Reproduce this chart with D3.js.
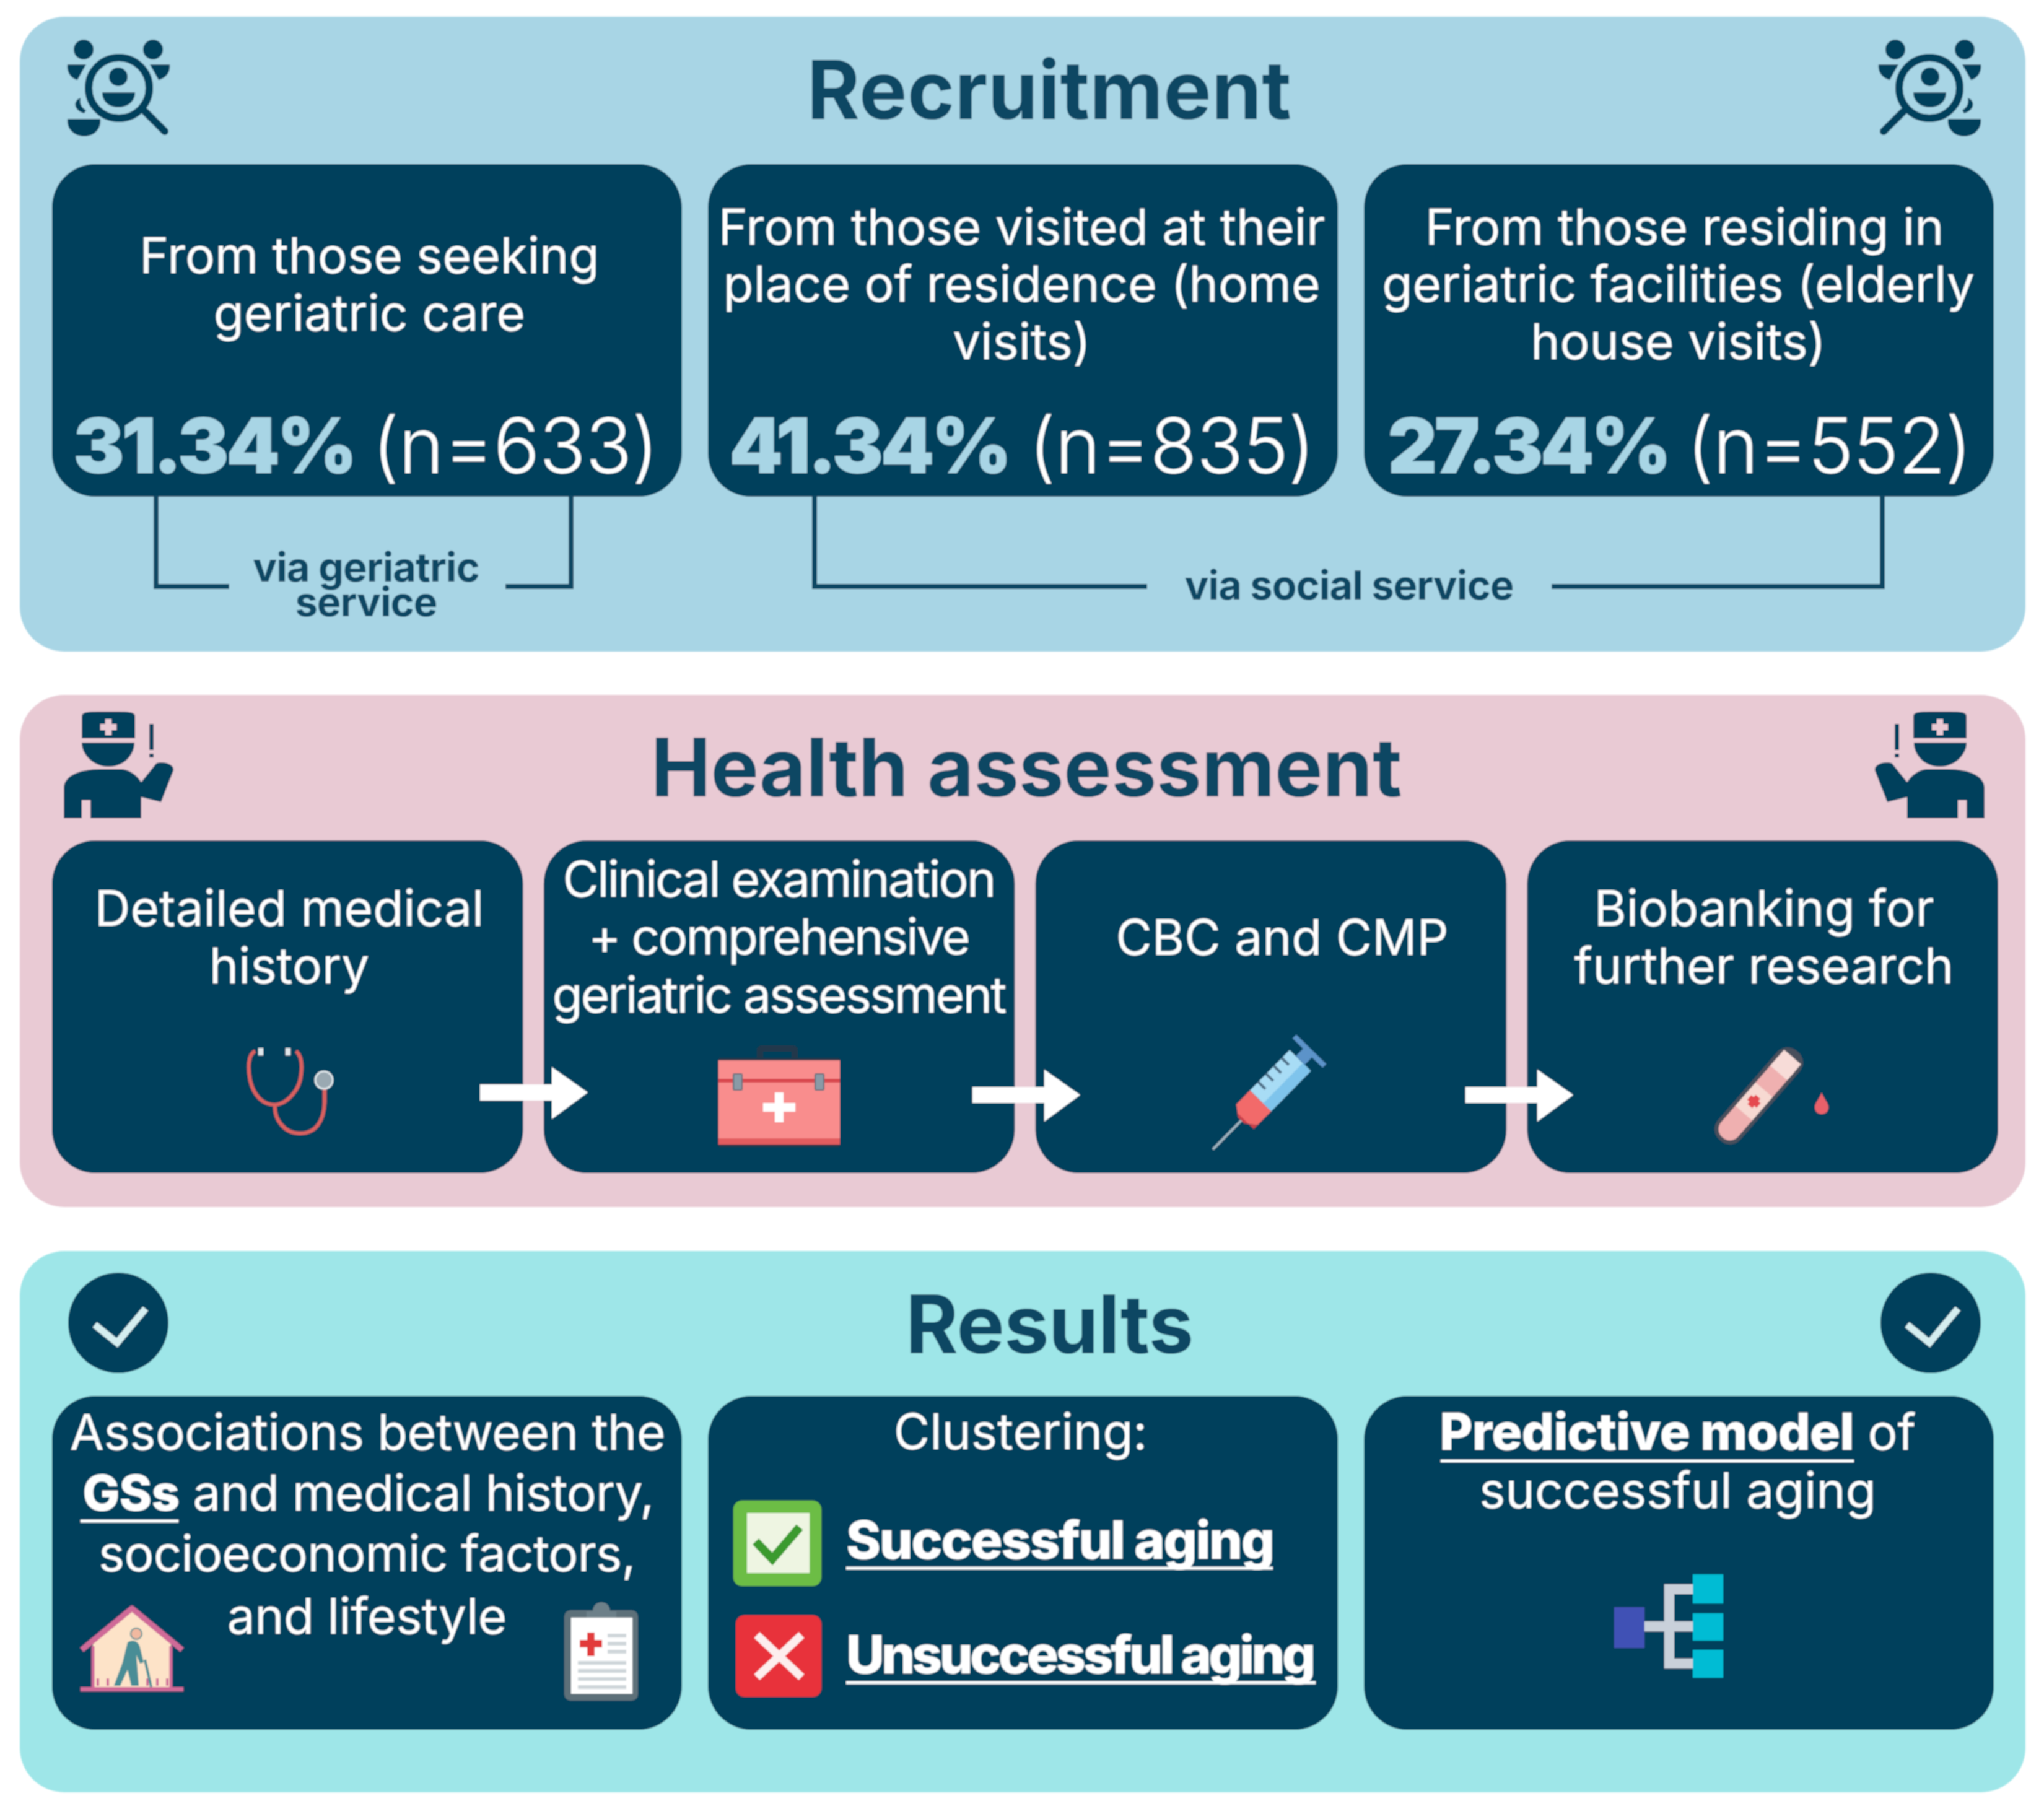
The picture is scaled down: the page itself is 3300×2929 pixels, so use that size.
<!DOCTYPE html>
<html>
<head>
<meta charset="utf-8">
<script src="https://cdn.jsdelivr.net/npm/d3@7"></script>
<style>
  html, body { margin: 0; padding: 0; background: #fff; }
  svg { display: block; }
  text { font-family: Inter, "Noto Sans", sans-serif; }
</style>
</head>
<body>
<div id="chart"></div>
<script>
// values
const sectionTitles = ["Recruitment", "Health assessment", "Results"];
const recruitLabels = [
  ["From those seeking", "geriatric care"],
  ["From those visited at their", "place of residence (home", "visits)"],
  ["From those residing in", "geriatric facilities (elderly", "house visits)"]
];
const recruitPct = [31.34, 41.34, 27.34];
const recruitN = [633, 835, 552];
const bracketLabels = [["via geriatric", "service"], ["via social service"]];
const stepLabels = [
  ["Detailed medical", "history"],
  ["Clinical examination", "+ comprehensive", "geriatric assessment"],
  ["CBC and CMP"],
  ["Biobanking for", "further research"]
];
const assocLines = ["Associations between the", "and medical history,", "socioeconomic factors,", "and lifestyle"];
const assocBold = "GSs";
const clusterTitle = "Clustering:";
const clusterLabels = ["Successful aging", "Unsuccessful aging"];
const modelBold = "Predictive model";
const modelRest = " of";
const modelLine2 = "successful aging";

const W = 3300, H = 2929;
const DARK = "#03405c", TITLE = "#0b4664", STAT = "#a8d5e5";
const BODY = 80;

const svg = d3.select("#chart").append("svg")
  .attr("width", W).attr("height", H).attr("viewBox", `0 0 ${W} ${H}`);
svg.append("rect").attr("width", W).attr("height", H).attr("fill", "#fff");

const defs = svg.append("defs");
defs.append("filter").attr("id", "soft")
  .attr("filterUnits", "userSpaceOnUse")
  .attr("x", 0).attr("y", 0).attr("width", W).attr("height", H)
  .append("feGaussianBlur").attr("stdDeviation", 1.3);

const root = svg.append("g").attr("filter", "url(#soft)");

// columns of the three- and four-box rows
const col3 = d3.scaleBand().domain(d3.range(3)).range([84, 3219]).paddingInner(0.04);
const col4 = d3.scaleBand().domain(d3.range(4)).range([84, 3226]).paddingInner(0.042);

// panels
const panels = [
  { y: 27, h: 1025, fill: "#a8d5e5" },
  { y: 1122, h: 827, fill: "#e9cad4" },
  { y: 2020, h: 874, fill: "#9ee6e8" }
];
root.selectAll("rect.panel").data(panels).join("rect")
  .attr("class", "panel")
  .attr("x", 32).attr("y", d => d.y)
  .attr("width", 3238).attr("height", d => d.h)
  .attr("rx", 72).attr("fill", d => d.fill);

function box(x, y, w, h) {
  root.append("rect").attr("x", x).attr("y", y).attr("width", w).attr("height", h)
    .attr("rx", 70).attr("fill", DARK);
}

function label(g, str, x, y, size, opt) {
  opt = opt || {};
  return g.append("text")
    .attr("x", x).attr("y", y)
    .attr("text-anchor", opt.anchor || "middle")
    .attr("font-size", size)
    .attr("font-weight", opt.weight || 400)
    .attr("letter-spacing", opt.spacing || 0)
    .attr("fill", opt.fill || "#fff")
    .text(str);
}

// titles
const titleX = [1694, 1657, 1694], titleY = [192, 1286, 2185], titleTrack = [0.3, -0.25, -1];
sectionTitles.forEach((t, i) => {
  label(root, t, titleX[i], titleY[i], 130, { weight: 700, fill: TITLE, spacing: titleTrack[i] });
});

// recruitment row
const recruitBase = [[441, 534], [395, 487, 580], [395, 487, 580]];
const recruitDx = [4, -2, -1];
const pctDx = [34, 34, 38];
const nDx = [517, 518, 521];
recruitLabels.forEach((lines, i) => {
  const x = col3(i), w = col3.bandwidth();
  box(x, 265, w, 537);
  const cx = x + w / 2 + recruitDx[i];
  lines.forEach((s, k) => label(root, s, cx + (i === 2 && k === 0 ? 10 : 0), recruitBase[i][k], BODY));
  label(root, d3.format(".2f")(recruitPct[i]) + "%", x + pctDx[i], 764, 124, { anchor: "start", weight: 900, fill: STAT, spacing: -4.7 });
  label(root, `(n=${recruitN[i]})`, x + nDx[i], 764, 124, { anchor: "start", weight: 300, spacing: -0.5 });
});

// brackets under the recruitment boxes
function bracket(x0, x1, x2, x3, top, bottom) {
  const p = d3.path();
  p.moveTo(x1, bottom); p.lineTo(x0, bottom); p.lineTo(x0, top);
  p.moveTo(x2, bottom); p.lineTo(x3, bottom); p.lineTo(x3, top);
  root.append("path").attr("d", p.toString()).attr("fill", "none")
    .attr("stroke", TITLE).attr("stroke-width", 8);
}
bracket(252, 370, 816, 922, 800, 947);
bracket(1315, 1852, 2505, 3039, 800, 947);
const viaG = label(root, null, 591, 939, 65, { weight: 700, fill: TITLE, spacing: -1 });
bracketLabels[0].forEach((s, k) => viaG.append("tspan").attr("x", 591).attr("y", 939 + k * 56).text(s));
label(root, bracketLabels[1][0], 2178, 968, 65, { weight: 700, fill: TITLE, spacing: -1 });

// health assessment row
const stepBase = [[1495, 1588], [1448, 1541, 1635], [1542], [1495, 1588]];
const stepCx = [467, 1257, 2070, 2848];
stepLabels.forEach((lines, i) => {
  const x = col4(i), w = col4.bandwidth();
  box(x, 1357, w, 537);
  lines.forEach((s, k) => label(root, s, stepCx[i], stepBase[i][k], BODY, { spacing: i === 1 ? -2.8 : 0 }));
});
const arrowStart = [775, 1570, 2366], arrowY = [1764, 1768, 1768];
arrowStart.forEach((x, i) => {
  const y = arrowY[i];
  root.append("path").attr("fill", "#fff")
    .attr("d", `M${x},${y - 13}H${x + 116}V${y - 41}L${x + 174},${y}L${x + 116},${y + 43}V${y + 13}H${x}Z`);
});

// results row
d3.range(3).forEach(i => box(col3(i), 2254, col3.bandwidth(), 539));
const cx0 = col3(0) + col3.bandwidth() / 2;
const cx1 = col3(1) + col3.bandwidth() / 2 - 4;
const cx2 = col3(2) + col3.bandwidth() / 2 - 2;

label(root, assocLines[0], cx0 + 1, 2341, BODY, { spacing: -0.5 });
const gs = label(root, null, cx0 + 2, 2439, BODY, { spacing: -0.8 });
gs.append("tspan").attr("font-weight", 800).text(assocBold);
gs.append("tspan").text(" " + assocLines[1]);
root.append("line").attr("x1", 130).attr("x2", 288).attr("y1", 2456).attr("y2", 2456)
  .attr("stroke", "#fff").attr("stroke-width", 5);
label(root, assocLines[2], cx0, 2537, BODY, { spacing: -0.8 });
label(root, assocLines[3], cx0, 2638, BODY, { spacing: -0.5 });

label(root, clusterTitle, cx1, 2340, BODY);
const clusterX = 1366, clusterBase = [2517, 2702], clusterTrack = [-2.4, -4.6], clusterEnd = [2055, 2124];
clusterLabels.forEach((s, i) => {
  label(root, s, clusterX, clusterBase[i], 85, { anchor: "start", weight: 800, spacing: clusterTrack[i] });
  root.append("line").attr("x1", clusterX).attr("x2", clusterEnd[i])
    .attr("y1", clusterBase[i] + 15).attr("y2", clusterBase[i] + 15)
    .attr("stroke", "#fff").attr("stroke-width", 5);
});

const pm = label(root, null, cx2, 2341, BODY);
pm.append("tspan").attr("font-weight", 800).attr("font-size", 82).attr("letter-spacing", -0.8).text(modelBold);
pm.append("tspan").text(modelRest);
root.append("line").attr("x1", 2326).attr("x2", 2993).attr("y1", 2359).attr("y2", 2359)
  .attr("stroke", "#fff").attr("stroke-width", 5);
label(root, modelLine2, cx2, 2435, BODY);

// ---- icons, drawn around their own origin ----
const MIRROR = 3307;

function searchIcon(g) {
  g.append("circle").attr("r", 49).attr("fill", "none").attr("stroke", DARK).attr("stroke-width", 12);
  g.append("circle").attr("cx", 1).attr("cy", -18).attr("r", 15).attr("fill", DARK);
  g.append("path").attr("fill", DARK).attr("d", "M-26,7H27C27,24 14,31 1,31C-12,31 -26,24 -26,7Z");
  g.append("line").attr("x1", -42).attr("y1", 38).attr("x2", -74).attr("y2", 70)
    .attr("stroke", DARK).attr("stroke-width", 12).attr("stroke-linecap", "round");
  [-55, 57].forEach(x => g.append("circle").attr("cx", x).attr("cy", -62).attr("r", 16).attr("fill", DARK));
  g.append("path").attr("fill", DARK).attr("d", "M-82,-38H-50L-64,-13C-74,-15 -84,-24 -82,-38Z");
  g.append("path").attr("fill", DARK).attr("d", "M53,-38H83C85,-24 76,-15 67,-13Z");
  g.append("path").attr("fill", DARK).attr("d", "M62,16C74,20 74,36 56,41L53,36C60,32 64,26 62,16Z");
  g.append("path").attr("fill", DARK).attr("d", "M30,50H83C85,68 70,78 56,78C42,78 28,68 30,50Z");
}
searchIcon(root.append("g").attr("transform", "translate(3115,142)"));
searchIcon(root.append("g").attr("transform", `translate(${MIRROR - 3115},142) scale(-1,1)`));

function doctorIcon(g) {
  // cap, band gap, face
  g.append("path").attr("fill", DARK).attr("d", "M-43,2V-32C-43,-41 -36,-41 0,-41C36,-41 43,-41 43,-32V2Z");
  g.append("path").attr("fill", DARK).attr("d", "M-43,9H42C42,30 24,48 0,48C-22,48 -43,30 -43,9Z");
  g.append("path").attr("fill", "#e9cad4").attr("d", "M-5,-29H5V-21H13V-11H5V-3H-5V-11H-13V-21H-5Z");
  // body and raised arm
  g.append("path").attr("fill", DARK).attr("d",
    "M-72,131V83C-72,64 -50,52 -12,52H20C34,52 46,62 53,73L77,43C85,38 107,43 105,54L85,105L53,97V131H-29V102H-43V131Z");
  // exclamation mark
  g.append("rect").attr("x", 66).attr("y", -21).attr("width", 7).attr("height", 42).attr("fill", DARK);
  g.append("rect").attr("x", 66).attr("y", 27).attr("width", 7).attr("height", 6).attr("fill", DARK);
}
doctorIcon(root.append("g").attr("transform", "translate(175,1190)"));
doctorIcon(root.append("g").attr("transform", `translate(${MIRROR - 175},1190) scale(-1,1)`));

function checkIcon(g, pts) {
  g.append("circle").attr("r", 81).attr("fill", DARK);
  g.append("path").attr("d", d3.line()(pts)).attr("fill", "none")
    .attr("stroke", "#d5eef0").attr("stroke-width", 11);
}
checkIcon(root.append("g").attr("transform", "translate(191,2136)"), [[-38, 3], [-2, 32], [44, -23]]);
checkIcon(root.append("g").attr("transform", "translate(3117,2136)"), [[-38, 3], [-2, 32], [44, -23]]);

// stethoscope
(function () {
  const g = root.append("g");
  const red = "#d9605f";
  g.append("path").attr("fill", "none").attr("stroke", red).attr("stroke-width", 6)
    .attr("d", "M412,1697C400,1703 400,1725 404,1745C410,1770 425,1784 444,1784C464,1782 484,1760 486,1735C488,1720 487,1705 478,1697");
  g.append("path").attr("fill", "none").attr("stroke", red).attr("stroke-width", 6)
    .attr("d", "M444,1784C442,1808 460,1830 484,1830C510,1830 523,1810 524,1780V1758");
  g.append("rect").attr("x", 417).attr("y", 1692).attr("width", 8).attr("height", 12).attr("fill", "#dfe6ea");
  g.append("rect").attr("x", 461).attr("y", 1692).attr("width", 8).attr("height", 12).attr("fill", "#dfe6ea");
  g.append("circle").attr("cx", 523).attr("cy", 1744).attr("r", 14).attr("fill", "#9aa9b2").attr("stroke", "#dfe6ea").attr("stroke-width", 3);
})();

// medical bag
(function () {
  const g = root.append("g").attr("transform", "translate(1160,1688)");
  g.append("path").attr("fill", "#22384c").attr("d", "M62,24V8C62,2 66,0 70,0H118C124,0 128,2 128,8V24H118V10H72V24Z");
  g.append("rect").attr("y", 20).attr("width", 196).attr("height", 144).attr("rx", 3).attr("fill", "#22384c");
  g.append("rect").attr("y", 24).attr("width", 196).attr("height", 126).attr("fill", "#f98d8d");
  g.append("rect").attr("y", 150).attr("width", 196).attr("height", 10).attr("fill", "#e25b5f");
  g.append("rect").attr("y", 54).attr("width", 196).attr("height", 6).attr("fill", "#d8474d");
  [24, 156].forEach(x => g.append("rect").attr("x", x).attr("y", 46).attr("width", 14).attr("height", 26).attr("rx", 2)
    .attr("fill", "#8a9aa6").attr("stroke", "#5b6d7a").attr("stroke-width", 2));
  g.append("path").attr("fill", "#fff").attr("d", "M91,76H105V93H124V107H105V124H91V107H72V93H91Z");
})();

// syringe, drawn along its axis from the needle tip
(function () {
  const g = root.append("g").attr("transform", "translate(1958,1856) rotate(-45.5) scale(1.06,1)");
  g.append("line").attr("x1", 0).attr("x2", 66).attr("y1", 0).attr("y2", 0).attr("stroke", "#9fb3bf").attr("stroke-width", 4);
  g.append("path").attr("fill", "#f26a6a").attr("d", "M62,-7L74,-24H104V24H74L62,7Z");
  g.append("path").attr("fill", "#c9404a").attr("d", "M62,-7L66,-13V24H74L62,7Z");
  g.append("rect").attr("x", 104).attr("y", -24).attr("width", 86).attr("height", 48).attr("fill", "#a8dcf5");
  g.append("rect").attr("x", 104).attr("y", 6).attr("width", 86).attr("height", 18).attr("fill", "#7fc4ec");
  [122, 139, 156, 173].forEach(x => g.append("line").attr("x1", x).attr("x2", x).attr("y1", -24).attr("y2", -8)
    .attr("stroke", "#4f6e86").attr("stroke-width", 4));
  g.append("rect").attr("x", 190).attr("y", -10).attr("width", 22).attr("height", 20).attr("fill", "#5b93c9");
  g.append("rect").attr("x", 206).attr("y", -34).attr("width", 8).attr("height", 68).attr("fill", "#5b93c9");
})();

// test tube and drop
(function () {
  const g = root.append("g").attr("transform", "translate(2793,1823) rotate(-49)");
  g.append("rect").attr("x", -24).attr("y", -24).attr("width", 190).attr("height", 48).attr("rx", 22).attr("fill", "#4a4f5c");
  g.append("rect").attr("x", -18).attr("y", -18).attr("width", 172).attr("height", 36).attr("rx", 17).attr("fill", "#efb0b0");
  g.append("rect").attr("x", 120).attr("y", -18).attr("width", 34).attr("height", 36).attr("fill", "#f7dcd8");
  g.append("rect").attr("x", 34).attr("y", -18).attr("width", 50).attr("height", 36).attr("fill", "#f7d9d2");
  g.append("path").attr("fill", "#e5484f").attr("d", "M54,-10H64V-5H69V5H64V10H54V5H49V-5H54Z");
  root.append("path").attr("fill", "#e9616a").attr("d", "M2941,1764C2936,1776 2930,1781 2930,1788C2930,1795 2935,1799 2941,1799C2947,1799 2952,1795 2952,1788C2952,1781 2946,1776 2941,1764Z");
})();

// house with person
(function () {
  const g = root.append("g").attr("transform", "translate(128,2592)");
  const pink = "#cf6a98";
  g.append("path").attr("fill", "#fde3c8").attr("d", "M22,60L85,6L148,60V134H22Z");
  g.append("path").attr("fill", "none").attr("stroke", pink).attr("stroke-width", 9).attr("stroke-linejoin", "round")
    .attr("d", "M4,72L85,5L166,72");
  g.append("path").attr("fill", "none").attr("stroke", pink).attr("stroke-width", 5).attr("d", "M22,66V134M148,66V134");
  g.append("rect").attr("x", 2).attr("y", 132).attr("width", 166).attr("height", 7).attr("fill", pink);
  d3.range(8).forEach(k => { if (k !== 3 && k !== 4) g.append("line").attr("x1", 30 + k * 16).attr("x2", 30 + k * 16).attr("y1", 118).attr("y2", 130).attr("stroke", pink).attr("stroke-width", 4); });
  g.append("circle").attr("cx", 92).attr("cy", 46).attr("r", 9).attr("fill", "#f1b9a0").attr("stroke", "#4a8d96").attr("stroke-width", 2);
  g.append("path").attr("fill", "#4a8d96").attr("d", "M78,60C86,54 96,58 98,68L104,92L98,94L92,80L96,130H84L78,104L66,130H56L70,92Z");
  g.append("line").attr("x1", 106).attr("y1", 88).attr("x2", 116).attr("y2", 132).attr("stroke", "#4a8d96").attr("stroke-width", 4);
})();

// clipboard
(function () {
  const g = root.append("g").attr("transform", "translate(911,2586)");
  g.append("rect").attr("y", 14).attr("width", 119).attr("height", 146).attr("rx", 10).attr("fill", "#5d7079");
  g.append("rect").attr("x", 11).attr("y", 26).attr("width", 99).attr("height", 123).attr("fill", "#fff");
  g.append("path").attr("fill", "#6d8089").attr("d", "M36,26V16H46C46,-4 74,-4 74,16H84V26Z");
  g.append("path").attr("fill", "#e23a3a").attr("d", "M37,50H49V62H61V74H49V88H37V74H25V62H37Z");
  d3.range(3).forEach(k => g.append("rect").attr("x", 70).attr("y", 52 + k * 13).attr("width", 30).attr("height", 6).attr("fill", "#cfd6da"));
  d3.range(4).forEach(k => g.append("rect").attr("x", 22).attr("y", 96 + k * 13).attr("width", 78).attr("height", 6).attr("fill", "#cfd6da"));
})();

// cluster check and cross boxes
root.append("rect").attr("x", 1184).attr("y", 2423).attr("width", 142).attr("height", 138).attr("rx", 14).attr("fill", "#6cbd45");
root.append("rect").attr("x", 1206).attr("y", 2443).attr("width", 101).attr("height", 97).attr("fill", "#eef5e2");
root.append("path").attr("d", d3.line()([[1220, 2489], [1247, 2517], [1291, 2466]]))
  .attr("fill", "none").attr("stroke", "#3a9a2e").attr("stroke-width", 14);
root.append("rect").attr("x", 1188).attr("y", 2608).attr("width", 138).attr("height", 132).attr("rx", 14).attr("fill", "#e8323a");
root.append("path").attr("d", "M1222,2640L1294,2708M1294,2640L1222,2708")
  .attr("fill", "none").attr("stroke", "#fdeeee").attr("stroke-width", 13);

// tree icon
(function () {
  const g = root.append("g");
  g.append("path").attr("fill", "none").attr("stroke", "#c9d0da").attr("stroke-width", 16)
    .attr("d", "M2655,2626H2733M2735,2566H2695V2686H2735");
  g.append("rect").attr("x", 2606).attr("y", 2595).attr("width", 49).attr("height", 66).attr("fill", "#3f51b5");
  [[2542, 47], [2605, 44], [2664, 45]].forEach(d => g.append("rect").attr("x", 2733).attr("y", d[0]).attr("width", 49).attr("height", d[1]).attr("fill", "#00bcd4"));
})();
</script>
</body>
</html>
